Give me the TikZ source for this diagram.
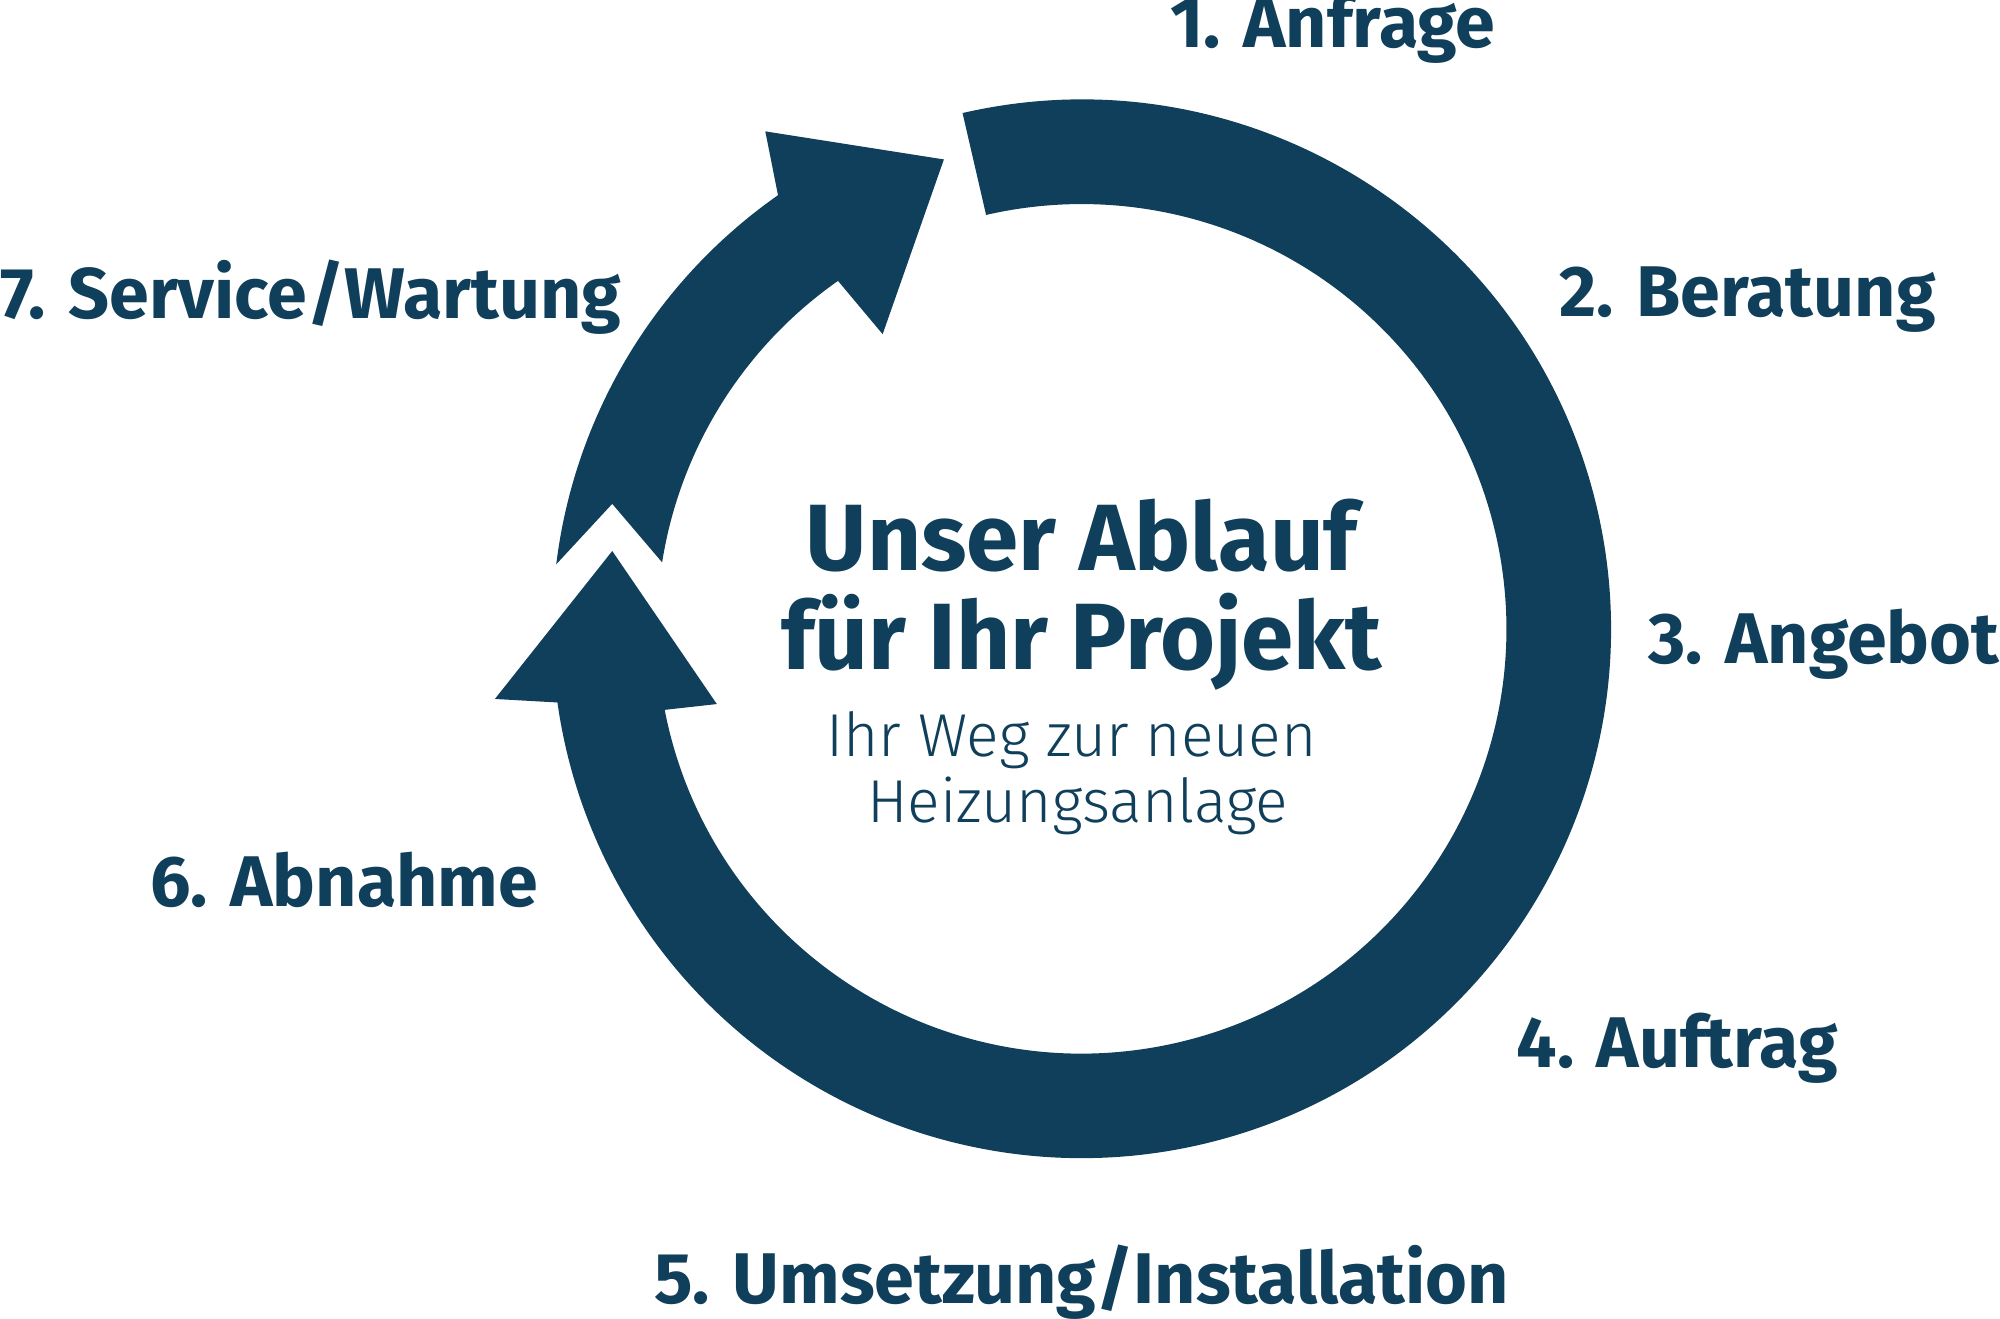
\documentclass[tikz,border=0pt]{standalone}
\usepackage{fontspec}
\setmainfont{Fira Sans}
\newfontfamily\lightf{Fira Sans Light}
\definecolor{navy}{HTML}{0F3F5A}
\begin{document}
\begin{tikzpicture}[x=0.01cm,y=-0.01cm,
  lab/.style={text=navy,font=\fontsize{16}{18}\selectfont\bfseries,inner sep=0},
  ttl/.style={text=navy,font=\fontsize{21}{24}\selectfont\bfseries,inner sep=0},
  sub/.style={text=navy,font=\fontsize{13.5}{16}\lightf,inner sep=0}]
\useasboundingbox (0,0) rectangle (1568,1034);
\coordinate (c) at (848,493);
% big arrow
\fill[navy] ([shift={(-103:415)}]c) arc[start angle=-103,end angle=172,radius=415]
  -- (388,548) -- (480,432) -- (562,552)
  -- ([shift={(169:333)}]c) arc[start angle=169,end angle=-103,radius=333] -- cycle;
% small arrow
\fill[navy] ([shift={(-173:415)}]c) arc[start angle=-173,end angle=-125,radius=415]
  -- (600,103) -- (740,125) -- (692,262)
  -- ([shift={(-125:333)}]c) arc[start angle=-125,end angle=-171,radius=333]
  -- (480,395) -- cycle;
\node[lab] (l1) at (1045,22) {1. Anfrage};
\node[lab] (l2) at (1370,235) {2. Beratung};
\node[lab,anchor=east] (l3) at (1568,505) {3. Angebot};
\node[lab] (l4) at (1315,822) {4. Auftrag};
\node[lab] (l5) at (848,1005) {5. Umsetzung/Installation};
\node[lab] (l6) at (270,690) {6. Abnahme};
\node[lab,anchor=west] (l7) at (0,233) {7. Service/Wartung};
\node[ttl] (t1) at (848,420) {Unser Ablauf};
\node[ttl] (t2) at (848,503) {für Ihr Projekt};
\node[sub] (s1) at (840,580) {Ihr Weg zur neuen};
\node[sub] (s2) at (845,632) {Heizungsanlage};
\end{tikzpicture}
\end{document}
